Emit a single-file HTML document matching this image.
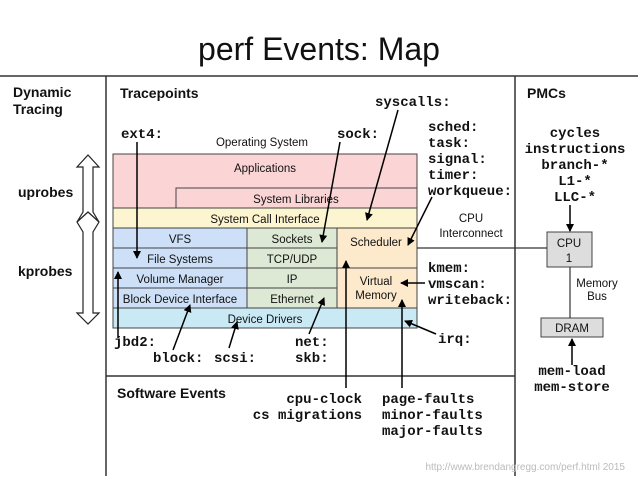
<!DOCTYPE html>
<html><head><style>
body{margin:0;background:#fff;}
text{font-family:"Liberation Sans",sans-serif;}
.m, .m text{font-family:"Liberation Mono",monospace;font-weight:bold;font-size:14px;fill:#111;}
.b{font-weight:bold;font-size:14px;fill:#111;}
.l, .l text{font-size:11.5px;fill:#111;}
</style></head><body>
<svg width="638" height="479" viewBox="0 0 638 479" xmlns="http://www.w3.org/2000/svg">
<defs><marker id="a" markerWidth="8" markerHeight="8" refX="7" refY="4" orient="auto" markerUnits="userSpaceOnUse"><path d="M0,0 L8,4 L0,8 z" fill="#000"/></marker></defs>
<text x="319" y="60" text-anchor="middle" style="font-size:32px" fill="#111">perf Events: Map</text>
<g stroke="#333" stroke-width="1.5" fill="none">
<line x1="0" y1="76" x2="638" y2="76"/>
<line x1="106" y1="76" x2="106" y2="476"/>
<line x1="515" y1="76" x2="515" y2="476"/>
<line x1="106" y1="376" x2="515" y2="376"/>
</g>
<text class="b" x="13" y="97">Dynamic</text><text class="b" x="13" y="114">Tracing</text>
<text class="b" x="120" y="98">Tracepoints</text>
<text class="b" x="527" y="98">PMCs</text>
<text class="b" x="117" y="398">Software Events</text>
<text class="b" x="18" y="197">uprobes</text>
<text class="b" x="18" y="276">kprobes</text>
<!-- double arrows -->
<g fill="#fff" stroke="#222" stroke-width="1.2" stroke-linejoin="miter">
<path d="M88,155 L99,167 L93,167 L93,212 L99,222 L88,212 L77,222 L83,212 L83,167 L77,167 Z"/>
<path d="M77,222 L88,212 L99,222 L93,232 L93,313 L99,313 L88,324 L77,313 L83,313 L83,232 Z"/>
</g>
<!-- OS boxes -->
<text class="l" x="262" y="146" text-anchor="middle">Operating System</text>
<g stroke="#444" stroke-width="1">
<rect x="113" y="154" width="304" height="54" fill="#fbd5d5"/>
<rect x="176" y="188" width="241" height="20" fill="#fbd5d5"/>
<rect x="113" y="208" width="304" height="20" fill="#fdf5d0"/>
<rect x="113" y="228" width="134" height="20" fill="#cde0f7"/>
<rect x="113" y="248" width="134" height="20" fill="#cde0f7"/>
<rect x="113" y="268" width="134" height="20" fill="#cde0f7"/>
<rect x="113" y="288" width="134" height="20" fill="#cde0f7"/>
<rect x="247" y="228" width="90" height="20" fill="#dde9d4"/>
<rect x="247" y="248" width="90" height="20" fill="#dde9d4"/>
<rect x="247" y="268" width="90" height="20" fill="#dde9d4"/>
<rect x="247" y="288" width="90" height="20" fill="#dde9d4"/>
<rect x="337" y="228" width="80" height="40" fill="#fde9cc"/>
<rect x="337" y="268" width="80" height="40" fill="#fde9cc"/>
<rect x="113" y="308" width="304" height="20" fill="#c9e9f4"/>
<rect x="547" y="232" width="45" height="35" fill="#ddd"/>
<rect x="541" y="318" width="62" height="19" fill="#ddd"/>
</g>
<g class="l" text-anchor="middle">
<text x="265" y="172">Applications</text>
<text x="296" y="203">System Libraries</text>
<text x="265" y="223">System Call Interface</text>
<text x="180" y="243">VFS</text>
<text x="180" y="263">File Systems</text>
<text x="180" y="283">Volume Manager</text>
<text x="180" y="303">Block Device Interface</text>
<text x="292" y="243">Sockets</text>
<text x="292" y="263">TCP/UDP</text>
<text x="292" y="283">IP</text>
<text x="292" y="303">Ethernet</text>
<text x="376" y="246">Scheduler</text>
<text x="376" y="285">Virtual</text>
<text x="376" y="299">Memory</text>
<text x="265" y="323">Device Drivers</text>
<text x="569" y="247">CPU</text>
<text x="569" y="262">1</text>
<text x="572" y="332">DRAM</text>
<text x="471" y="222">CPU</text>
<text x="471" y="237">Interconnect</text>
<text x="597" y="287">Memory</text>
<text x="597" y="300">Bus</text>
</g>
<g stroke="#333" stroke-width="1.2">
<line x1="417" y1="248" x2="547" y2="248"/>
<line x1="570" y1="267" x2="570" y2="318"/>
</g>
<!-- mono labels -->
<text class="m" x="375" y="106">syscalls:</text>
<text class="m" x="121" y="138">ext4:</text>
<text class="m" x="337" y="138">sock:</text>
<g class="m">
<text x="428" y="131">sched:</text><text x="428" y="147">task:</text><text x="428" y="163">signal:</text><text x="428" y="179">timer:</text><text x="428" y="195">workqueue:</text>
<text x="428" y="272">kmem:</text><text x="428" y="288">vmscan:</text><text x="428" y="304">writeback:</text>
<text x="438" y="343">irq:</text>
<text x="114" y="346">jbd2:</text>
<text x="153" y="362">block:</text><text x="214" y="362">scsi:</text>
<text x="295" y="346">net:</text><text x="295" y="362">skb:</text>
<text x="362" y="403" text-anchor="end">cpu-clock</text>
<text x="362" y="419" text-anchor="end">cs migrations</text>
<text x="382" y="403">page-faults</text><text x="382" y="419">minor-faults</text><text x="382" y="435">major-faults</text>
</g>
<g class="m" text-anchor="middle">
<text x="575" y="137">cycles</text><text x="575" y="153">instructions</text><text x="575" y="169">branch-*</text><text x="575" y="185">L1-*</text><text x="575" y="201">LLC-*</text>
<text x="572" y="375">mem-load</text><text x="572" y="391">mem-store</text>
</g>
<!-- arrows -->
<g stroke="#000" stroke-width="1.5" marker-end="url(#a)">
<line x1="137" y1="142" x2="137" y2="258"/>
<line x1="340" y1="142" x2="322" y2="242"/>
<line x1="398" y1="110" x2="367" y2="220"/>
<line x1="432" y1="197" x2="408" y2="245"/>
<line x1="118" y1="338" x2="118" y2="272"/>
<line x1="173" y1="350" x2="190" y2="305"/>
<line x1="229" y1="348" x2="237" y2="322"/>
<line x1="309" y1="334" x2="324" y2="298"/>
<line x1="346" y1="388" x2="346" y2="261"/>
<line x1="402" y1="388" x2="402" y2="300"/>
<line x1="425" y1="283" x2="401" y2="283"/>
<line x1="436" y1="334" x2="405" y2="321"/>
<line x1="570" y1="205" x2="570" y2="231"/>
<line x1="572" y1="365" x2="572" y2="339"/>
</g>
<text x="625" y="470" text-anchor="end" style="font-size:10px" fill="#bbb">http://www.brendangregg.com/perf.html 2015</text>
</svg>
</body></html>
